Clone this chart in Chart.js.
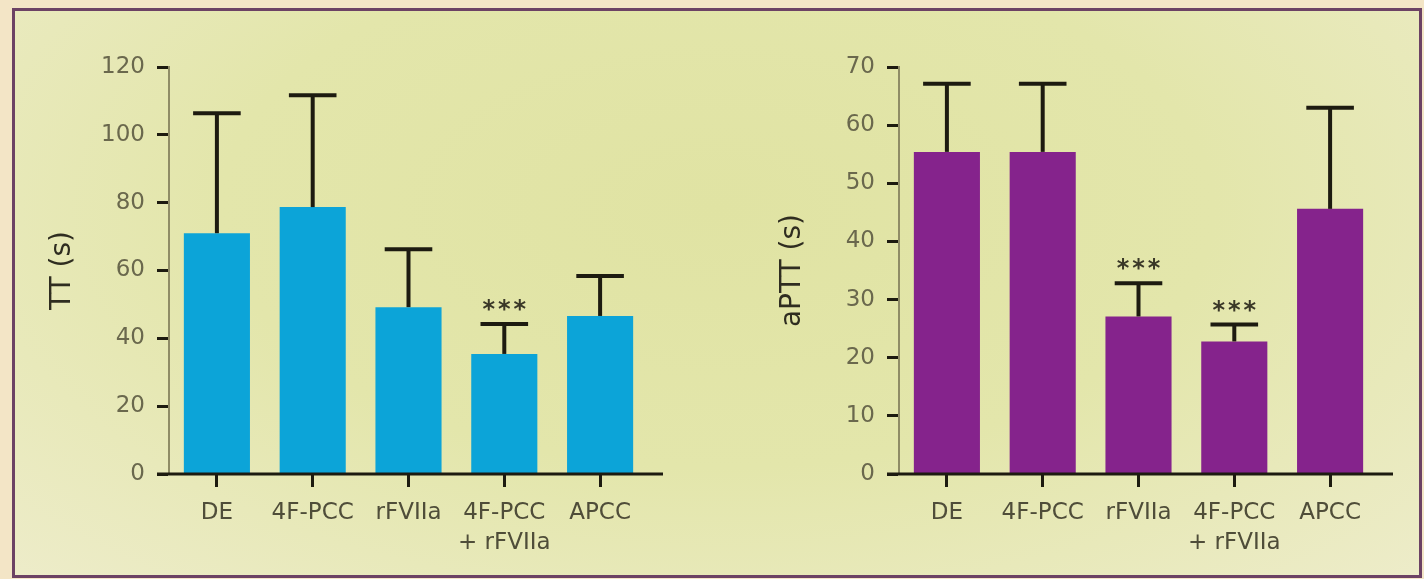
<!DOCTYPE html>
<html>
<head>
<meta charset="utf-8">
<script src="https://cdn.jsdelivr.net/npm/chart.js@4.4.1/dist/chart.umd.min.js"></script>
<style>
  html, body { margin: 0; padding: 0; width: 1424px; height: 579px; overflow: hidden; background: #f3e5c6; }
  #panel {
    position: absolute; left: 12px; top: 8px; width: 1404px; height: 564px;
    border: 3px solid #6c4264;
    background: radial-gradient(ellipse at 50% 35%, #e0e3a3 0%, #e3e6ab 50%, #edecc9 100%);
  }
  .wrap { position: absolute; top: 0; width: 712px; height: 579px; }
</style>
</head>
<body>
<div id="panel"></div>
<div class="wrap" style="left:0px"><canvas id="tt" width="712" height="579"></canvas></div>
<div class="wrap" style="left:730px"><canvas id="aptt" width="712" height="579"></canvas></div>
<script>
// Treatment groups
const groups = ['DE', '4F-PCC', 'rFVIIa', ['4F-PCC', '+ rFVIIa'], 'APCC'];

// Thrombin time (s): means and upper SD
const ttMean = [71.0, 78.7, 49.2, 35.4, 46.6];
const ttSD   = [35.4, 33.0, 17.1, 8.8, 11.8];
const ttSig  = ['', '', '', '***', ''];
const ttTicks = { max: 120, step: 20 };

// Activated partial thromboplastin time (s): means and upper SD
const apttMean = [55.4, 55.4, 27.1, 22.8, 45.6];
const apttSD   = [11.7, 11.7, 5.7, 2.9, 17.4];
const apttSig  = ['', '', '***', '***', ''];
const apttTicks = { max: 70, step: 10 };

const FONT = 'DejaVu Sans';
const INK = '#1d1b10';

// Baseline, error bars and significance marks
const decor = {
  id: 'decor',
  afterDatasetsDraw(chart, args, opts) {
    const { ctx, chartArea, scales: { y } } = chart;
    const meta = chart.getDatasetMeta(0);
    const data = chart.data.datasets[0].data;
    const y0 = y.getPixelForValue(0);
    ctx.save();
    ctx.strokeStyle = INK;
    ctx.lineCap = 'butt';
    ctx.lineWidth = 3;
    ctx.beginPath();
    ctx.moveTo(chartArea.left - 12, y0);
    ctx.lineTo(chartArea.right + 15, y0);
    ctx.stroke();
    meta.data.forEach((bar, i) => {
      const top = y.getPixelForValue(data[i] + opts.sd[i]);
      const half = bar.width * 0.36;
      ctx.lineWidth = 4;
      ctx.beginPath();
      ctx.moveTo(bar.x, bar.y);
      ctx.lineTo(bar.x, top);
      ctx.stroke();
      ctx.beginPath();
      ctx.moveTo(bar.x - half, top);
      ctx.lineTo(bar.x + half, top);
      ctx.stroke();
      if (opts.sig[i]) {
        ctx.font = 'bold 24px "' + FONT + '"';
        ctx.letterSpacing = '3px';
        ctx.textAlign = 'center';
        ctx.textBaseline = 'alphabetic';
        ctx.fillStyle = '#3a3828';
        ctx.fillText(opts.sig[i], bar.x + 1.5, top - 7);
      }
    });
    ctx.restore();
  }
};

function makeChart(id, title, mean, sd, sig, ticks, color) {
  return new Chart(document.getElementById(id), {
    type: 'bar',
    data: {
      labels: groups,
      datasets: [{
        data: mean,
        backgroundColor: color,
        borderWidth: 0,
        barPercentage: 0.69,
        categoryPercentage: 1.0
      }]
    },
    options: {
      responsive: false,
      maintainAspectRatio: false,
      animation: false,
      events: [],
      layout: { padding: { top: 67, right: 64, bottom: 0, left: 0 } },
      plugins: {
        legend: { display: false },
        tooltip: { enabled: false },
        decor: { sd: sd, sig: sig }
      },
      scales: {
        x: {
          type: 'category',
          offset: true,
          border: { display: false },
          grid: {
            offset: false, drawOnChartArea: false, drawTicks: true,
            tickLength: 13, tickWidth: 3, tickColor: INK
          },
          ticks: {
            color: '#4f4d39', padding: 11, maxRotation: 0, autoSkip: false,
            font: { family: FONT, size: 23, lineHeight: 1.3 }
          },
          afterFit(scale) { scale.height = 105; }
        },
        y: {
          min: 0, max: ticks.max,
          border: { display: true, color: '#8f8c66', width: 2 },
          grid: {
            drawOnChartArea: false, drawTicks: true,
            tickLength: 12, tickWidth: 3, tickColor: INK
          },
          ticks: {
            stepSize: ticks.step, color: '#6a684d', padding: 12,
            font: { family: FONT, size: 23 }
          },
          title: {
            display: true, text: title, color: '#2f2d20',
            font: { family: FONT, size: 28 },
            padding: { top: 46, bottom: 0 }
          },
          afterFit(scale) { scale.width = 169; }
        }
      }
    },
    plugins: [decor]
  });
}

makeChart('tt', 'TT (s)', ttMean, ttSD, ttSig, ttTicks, '#0ca4d8');
makeChart('aptt', 'aPTT (s)', apttMean, apttSD, apttSig, apttTicks, '#85238c');
</script>
</body>
</html>
